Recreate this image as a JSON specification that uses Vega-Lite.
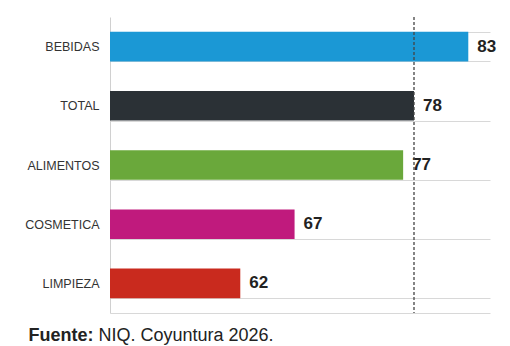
{
  "$schema": "https://vega.github.io/schema/vega-lite/v6.json",
  "width": 380,
  "height": 296,
  "autosize": {"type": "none"},
  "padding": {"left": 110, "top": 17, "right": 20, "bottom": 33},
  "background": "white",
  "config": {"view": {"stroke": null}, "font": "Liberation Sans"},
  "data": {
    "values": [
      {"categoria": "BEBIDAS", "valor": 83},
      {"categoria": "TOTAL", "valor": 78},
      {"categoria": "ALIMENTOS", "valor": 77},
      {"categoria": "COSMETICA", "valor": 67},
      {"categoria": "LIMPIEZA", "valor": 62}
    ]
  },
  "layer": [
    {
      "mark": {"type": "bar"},
      "encoding": {
        "y": {
          "field": "categoria", "type": "nominal", "sort": null,
          "scale": {"paddingInner": 0.5, "paddingOuter": 0.25},
          "axis": {
            "title": "NIQ. Coyuntura 2026.",
            "titleAngle": 0, "titleX": -12, "titleY": 323,
            "titleAlign": "left", "titleBaseline": "alphabetic",
            "titleFontSize": 18, "titleFontWeight": "normal", "titleColor": "#222222",
            "domain": true, "domainColor": "#d0d0d0",
            "ticks": false, "grid": true, "tickBand": "extent", "gridColor": "#d8d8d8",
            "labelFontSize": 12.5, "labelColor": "#333333", "labelPadding": 11
          }
        },
        "x": {
          "field": "valor", "type": "quantitative",
          "scale": {"domain": [50, 85], "zero": false, "nice": false},
          "axis": {
            "title": "Fuente:",
            "titleX": -82, "titleY": 27,
            "titleAlign": "left", "titleBaseline": "alphabetic",
            "titleFontSize": 18, "titleFontWeight": "bold", "titleColor": "#222222",
            "labels": false, "ticks": false, "grid": false,
            "domain": true, "domainColor": "#d8d8d8"
          }
        },
        "x2": {"datum": 50},
        "color": {
          "field": "categoria", "type": "nominal",
          "scale": {
            "domain": ["BEBIDAS", "TOTAL", "ALIMENTOS", "COSMETICA", "LIMPIEZA"],
            "range": ["#1b98d5", "#2b3136", "#6aa83b", "#c01a7d", "#c92a1e"]
          },
          "legend": null
        }
      }
    },
    {
      "mark": {"type": "text", "align": "left", "baseline": "middle", "dx": 9, "fontWeight": "bold", "fontSize": 17, "color": "#222222"},
      "encoding": {
        "y": {"field": "categoria", "type": "nominal", "sort": null},
        "x": {"field": "valor", "type": "quantitative"},
        "text": {"field": "valor", "type": "quantitative"}
      }
    },
    {
      "data": {"values": [{"total": 78}]},
      "mark": {"type": "rule", "strokeDash": [3, 2], "color": "#444444", "strokeWidth": 1.3},
      "encoding": {
        "x": {"field": "total", "type": "quantitative"}
      }
    }
  ]
}
